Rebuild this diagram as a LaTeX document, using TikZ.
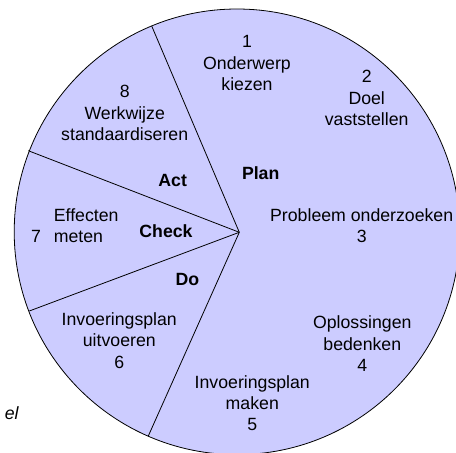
\documentclass[tikz,border=0pt]{standalone}
\usepackage{fontspec}
\setmainfont{Liberation Sans}
\definecolor{pielilac}{HTML}{CCCCFF}
\tikzset{
	txt/.style={font=\fontsize{17.7}{21.3}\selectfont, align=center, inner sep=0pt},
	phase/.style={txt, font=\fontsize{17.7}{21.3}\selectfont\bfseries},
}
\begin{document}
\begin{tikzpicture}
	[x=1pt, y=-1pt, line width=0.8pt]
	\useasboundingbox (0,0) rectangle (456,453);
	% circle and the four dividing lines
	\coordinate (c) at (239.3,232.3);
	\coordinate (pa) at (151.7,26);
	\coordinate (ac) at (28.3,150.7);
	\coordinate (cd) at (29.3,311);
	\coordinate (dp) at (148.3,436);
	\filldraw[fill=pielilac] (237,231.8) circle (222.8);
	\draw (c) -- (pa);
	\draw (c) -- (ac);
	\draw (c) -- (cd);
	\draw (c) -- (dp);
	% steps
	\node[txt] (s1) at (247,63) {1\\Onderwerp\\kiezen};
	\node[txt] (s2) at (366.7,98) {2\\Doel\\vaststellen};
	\node[txt] (s3) at (361.7,225.5) {Probleem onderzoeken\\3};
	\node[txt] (s4) at (362.3,343.7) {Oplossingen\\bedenken\\4};
	\node[txt] (s5) at (252.3,403) {Invoeringsplan\\maken\\5};
	\node[txt] (s6) at (119.3,340.5) {Invoeringsplan\\uitvoeren\\6};
	\node[txt] (n7) at (36,236) {7};
	\node[txt, align=left, anchor=west] (s7) at (53.5,225.5) {Effecten\\meten};
	\node[txt] (s8) at (124.7,113) {8\\Werkwijze\\standaardiseren};
	% phases
	\node[phase] (plan) at (260.7,173.3) {Plan};
	\node[phase] (act) at (172.7,180) {Act};
	\node[phase] (check) at (166,230.7) {Check};
	\node[phase] (do) at (187.3,279.3) {Do};
	\node[txt, font=\fontsize{17.7}{21.3}\selectfont\itshape, anchor=east] (cut) at (19,413) {el};
\end{tikzpicture}
\end{document}
